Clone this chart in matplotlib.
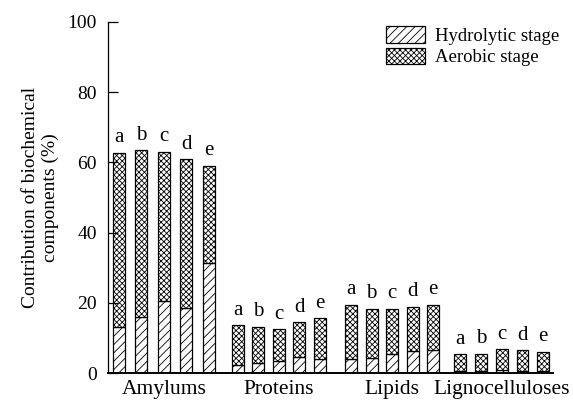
import matplotlib.pyplot as plt
import numpy as np

plt.rcParams['font.family'] = ['Liberation Serif', 'DejaVu Serif']
plt.rcParams['hatch.linewidth'] = 0.6

# Component groups and treatments
groups = ['Amylums', 'Proteins', 'Lipids', 'Lignocelluloses']
treatments = ['a', 'b', 'c', 'd', 'e']

# Contribution (%) per group, treatments a-e
hydrolytic = [
    [13.2, 15.9, 20.5, 18.4, 31.2],
    [2.3, 2.8, 3.4, 4.5, 4.1],
    [3.9, 4.3, 5.4, 6.3, 6.6],
    [0.5, 0.5, 0.8, 0.5, 0.5],
]
total = [
    [62.8, 63.4, 63.1, 60.9, 59.0],
    [13.6, 13.2, 12.4, 14.4, 15.6],
    [19.4, 18.3, 18.3, 18.8, 19.4],
    [5.3, 5.4, 6.8, 6.5, 6.0],
]

fig = plt.figure(figsize=(5.73, 4.0), dpi=100)
ax = fig.add_axes([0.1885, 0.0675, 0.7765, 0.8775])

group_start = [0.0, 5.65, 11.05, 16.25]
bar_step = [1.07, 0.98, 0.98, 0.99]
width = 0.57
for g, name in enumerate(groups):
    x = group_start[g] + bar_step[g] * np.arange(len(treatments))
    h = np.array(hydrolytic[g])
    t = np.array(total[g])
    ax.bar(x, h, width, color='white', edgecolor='black', hatch='////',
           linewidth=0.9, label='Hydrolytic stage' if g == 0 else None)
    ax.bar(x, t - h, width, bottom=h, color='white', edgecolor='black',
           hatch='xxxxxx', linewidth=0.9, label='Aerobic stage' if g == 0 else None)
    for xi, ti, lab in zip(x, t, treatments):
        ax.text(xi, ti + 1.6, lab, ha='center', va='bottom', fontsize=15)
    ax.text(x.mean(), -2.0, name, ha='center', va='top', fontsize=15.5,
            clip_on=False)

ax.set_xlim(-0.52, 20.67)
ax.set_ylim(0, 100)
ax.set_yticks(np.arange(0, 101, 20))
ax.set_xticks([])
ax.tick_params(axis='y', direction='in', length=7, width=0.9, labelsize=14, pad=8)
ax.set_ylabel('Contribution of biochemical\ncomponents (%)', fontsize=14, labelpad=6)

ax.spines['top'].set_visible(False)
ax.spines['right'].set_visible(False)
ax.spines['left'].set_linewidth(0.9)
ax.spines['bottom'].set_linewidth(1.4)

ax.legend(loc='upper right', bbox_to_anchor=(1.03, 1.01), frameon=False, fontsize=13.5,
          handlelength=2.1, handleheight=1.0, handletextpad=0.5, labelspacing=0.15,
          borderaxespad=0.0)

fig.savefig('out.png', dpi=100)
